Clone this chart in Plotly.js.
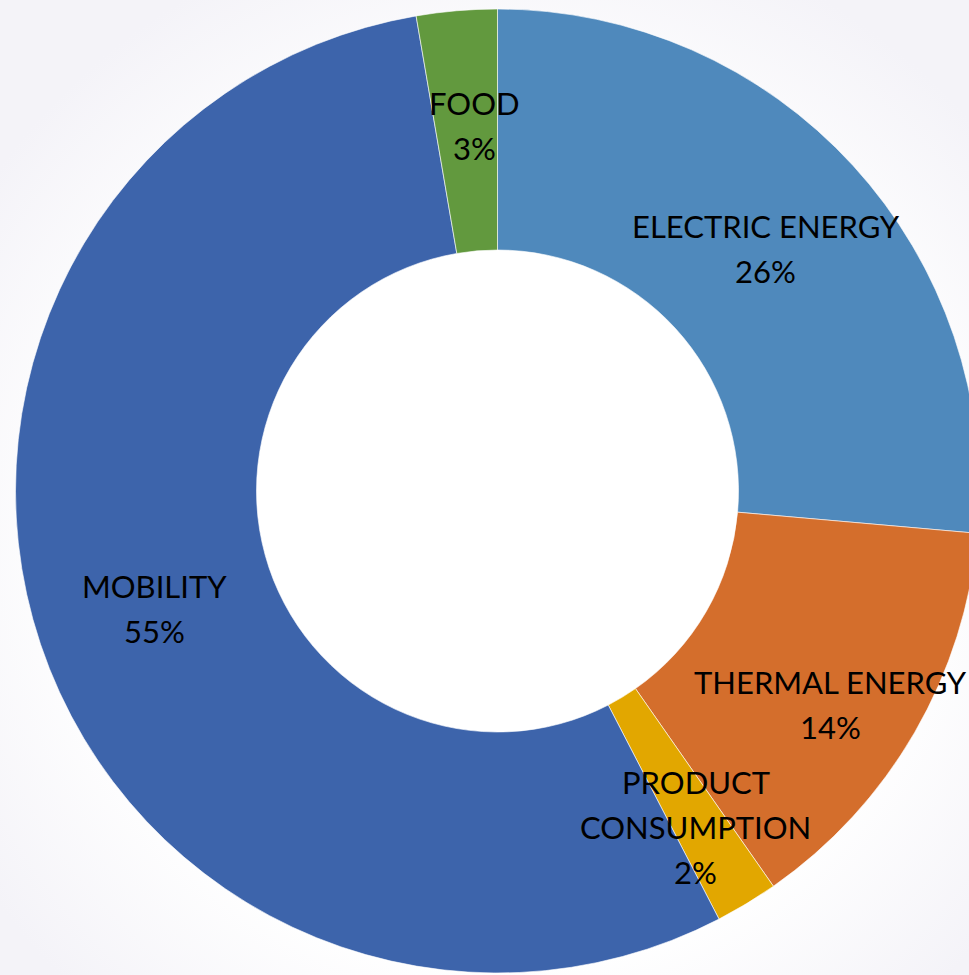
<!DOCTYPE html>
<html>
<head>
<meta charset="utf-8">
<script src="https://cdn.plot.ly/plotly-3.0.1.min.js"></script>
<style>
html, body { margin: 0; padding: 0; overflow: hidden; width: 969px; height: 975px;
  background: radial-gradient(circle at 52% 55%, #ffffff 58%, #f4f3f8 85%); }
#chart { width: 995px; height: 975px; }
</style>
</head>
<body>
<div id="chart"></div>
<script>
// Data
const categories = ["ELECTRIC ENERGY", "THERMAL ENERGY", "PRODUCT<br>CONSUMPTION", "MOBILITY", "FOOD"];
const values = [26.4, 13.9, 2.1, 54.9, 2.7];
const colors = ["#4F89BC", "#D46E2C", "#E2A700", "#3D64AB", "#62993E"];

// Layout geometry (px)
const W = 995, H = 975, MT = 9, MB = 2;
const plotH = H - MT - MB;
const cx = W / 2, cy = MT + plotH / 2;
const ringMid = 362;                 // label anchor distance from centre (px)
// Per-label nudges (px) relative to the ring-middle point
const labelNudge = [[1.5, 2.4], [20, 31.7], [11, 26], [0, 2], [7.7, -5.3]];
const lineGap = 45;
const labelFont = { family: "Lato, 'Open Sans', sans-serif", size: 31, color: "#000000" };

const total = values.reduce((a, b) => a + b, 0);
let cum = 0;
const annotations = [];
values.forEach((v, i) => {
  const mid = (cum + v / 2) / total * 2 * Math.PI;
  cum += v;
  const px = cx + ringMid * Math.sin(mid) + labelNudge[i][0];
  const py = cy - ringMid * Math.cos(mid) + labelNudge[i][1];
  const lines = categories[i].split("<br>").concat([Math.round(v / total * 100) + "%"]);
  lines.forEach((ln, k) => {
    annotations.push({
      x: px / W, y: 1 - (py - MT) / plotH, xref: "paper", yref: "paper",
      xanchor: "center", yanchor: "middle", showarrow: false, align: "center",
      yshift: -(k - (lines.length - 1) / 2) * lineGap,
      text: ln, font: labelFont
    });
  });
});

const trace = {
  type: "pie",
  labels: categories,
  values: values,
  hole: 0.5,
  sort: false,
  direction: "clockwise",
  rotation: 0,
  textinfo: "none",
  hoverinfo: "label+percent",
  marker: { colors: colors, line: { color: "rgba(255,255,255,0.6)", width: 1 } },
  showlegend: false
};

const layout = {
  width: W, height: H,
  margin: { l: 0, r: 0, t: MT, b: MB, pad: 0 },
  paper_bgcolor: "rgba(0,0,0,0)",
  plot_bgcolor: "rgba(0,0,0,0)",
  showlegend: false,
  annotations: annotations
};

Plotly.newPlot("chart", [trace], layout, { displayModeBar: false, staticPlot: true });
</script>
</body>
</html>
